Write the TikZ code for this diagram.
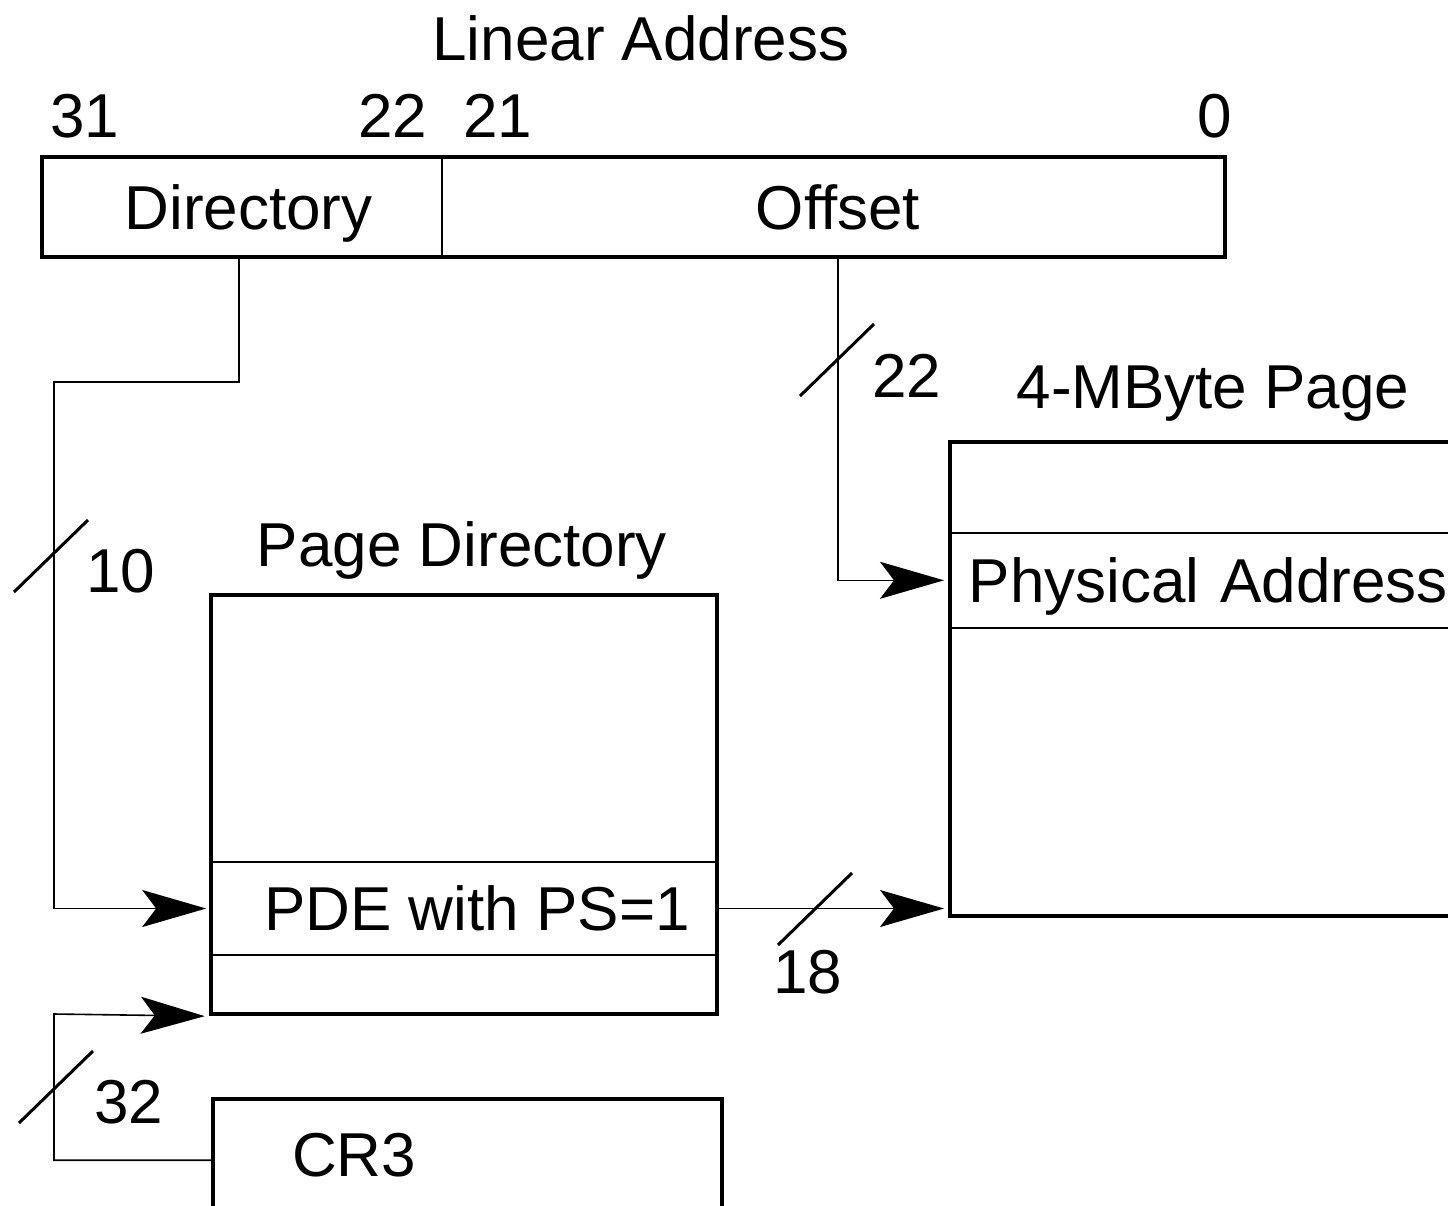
\documentclass[tikz,border=0pt]{standalone}
\usepackage{fontspec}
\setmainfont{Liberation Sans}
\usetikzlibrary{arrows.meta,positioning}
\newcommand{\lblfont}{\fontsize{31}{37}\selectfont}

\begin{document}
\begin{tikzpicture}[x=0.5pt,y=0.5pt,yscale=-1,font=\lblfont,
    thinbox/.style={draw, line width=0.8pt, inner sep=0pt, text height=22.2pt, text depth=0pt},
    thickbox/.style={draw, line width=2.2pt, inner sep=0pt, text height=22.2pt, text depth=0pt},
    nudge/.style={execute at begin node={\hspace*{#1}}},
    wire/.style={line width=0.8pt},
    bigtip/.style={-{Stealth[length=32pt,width=18.5pt,inset=7pt]}, shorten >=2pt},
    txt/.style={anchor=base, inner sep=0pt},
    buswidth/.pic={\draw[line width=1.5pt] (-37,-36) -- (37,36);}
]
\useasboundingbox (0,0) rectangle (1448,1206);
\clip (0,0) rectangle (1448,1206);

        % Text Node
        \node[txt] (latitle) at (641,60) {Linear Address};
        \node[txt] (b31) at (85,137) {31};
        \node[txt] (b22) at (393,137) {22};
        \node[txt] (b21) at (498,137) {21};
        \node[txt] (b0) at (1215,137) {0};

        %Shape: Linear address fields
        \node[thinbox, nudge=6pt, minimum width=199.5pt, minimum height=49pt] (dir) at (242.5,207) {Directory};
        \node[thinbox, nudge=5pt, minimum width=391pt, minimum height=49pt] (off) at (833,207) {Offset};
        \draw[line width=2.2pt] (dir.north west) rectangle (off.south east);

        %Shape: Page directory
        \node[txt] (pdtitle) at (462,566) {Page Directory};
        \node[thinbox, nudge=13pt, minimum width=253pt, minimum height=46.5pt] (pde) at (464,908.5) {PDE with PS=1};
        \node[thickbox, minimum width=253pt, minimum height=209.5pt] (pd) at (464,804.5) {};

        %Shape: 4-MByte page
        \node[txt] (pagetitle) at (1213,408) {4-MByte Page};
        \node[thinbox, anchor=north west, minimum height=47.5pt, inner xsep=10pt, text width=320pt, align=left] (pa) at (948,532) {Physical Address};
        \node[thickbox, anchor=north west, minimum width=340pt, minimum height=237pt] (page) at (948,440) {};

        %Shape: CR3
        \node[thickbox, anchor=north west, minimum height=61pt, text depth=5.5pt, inner xsep=39.5pt, text width=175.5pt, align=left] (cr3) at (211,1097) {CR3};

        %Straight Lines
        \coordinate (dirbend) at (54,382);
        \coordinate (cr3bend) at (54,1014);
        \draw[wire, bigtip] ([xshift=-1.75pt]dir.south) |- (dirbend) |- (pde.west);
        \draw[wire, bigtip] ([xshift=2.5pt]off.south) |- (pa.west);
        \draw[wire, bigtip] (pde.east) -- (pde.east -| page.west);
        \draw[wire, bigtip] (cr3.west) -| (cr3bend) -- (pd.south west);

        % Bus widths
        \pic at (51,556) {buswidth};
        \node[txt] (w10) at (121,592) {10};
        \pic at (837,360) {buswidth};
        \node[txt] (w22) at (907,397) {22};
        \pic at (815,909) {buswidth};
        \node[txt] (w18) at (808,993) {18};
        \pic at (56,1087) {buswidth};
        \node[txt] (w32) at (129,1123) {32};

\end{tikzpicture}
\end{document}
